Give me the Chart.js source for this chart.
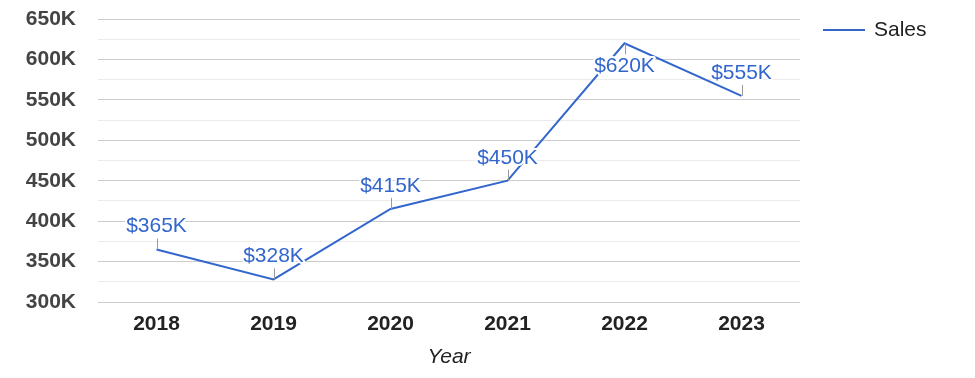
<!DOCTYPE html>
<html>
<head>
<meta charset="utf-8">
<script src="https://cdn.jsdelivr.net/npm/chart.js@4"></script>
<style>
  html, body { margin: 0; padding: 0; background: #fff; }
  #wrap { width: 975px; height: 378px; position: relative; }
</style>
</head>
<body>
<div id="wrap"><canvas id="salesChart"></canvas></div>
<script>
const years = ["2018", "2019", "2020", "2021", "2022", "2023"];
const sales = [365000, 328000, 415000, 450000, 620000, 555000];
const seriesName = "Sales";
const axisTitle = "Year";

const FONT = "'Liberation Sans', Arial, sans-serif";
const BLUE = "#3366cc";

// annotation labels with stems, drawn over the line like Google Charts
// (flipped below the point when there is no room above)
const annotations = {
  id: "annotations",
  afterDatasetsDraw(chart) {
    const ctx = chart.ctx;
    const meta = chart.getDatasetMeta(0);
    const top = chart.chartArea.top;
    ctx.save();
    ctx.font = "21px " + FONT;
    ctx.textAlign = "center";
    ctx.textBaseline = "middle";
    meta.data.forEach((pt, i) => {
      const x = pt.x, y = pt.y;
      const dir = (y - 33 < top) ? 1 : -1;
      ctx.strokeStyle = "#999";
      ctx.lineWidth = 1;
      ctx.beginPath();
      ctx.moveTo(Math.round(x) + 0.5, y + dir * 11);
      ctx.lineTo(Math.round(x) + 0.5, y);
      ctx.stroke();
      const txt = "$" + (sales[i] / 1000) + "K";
      const ty = y + dir * 23;
      ctx.strokeStyle = "#fff";
      ctx.lineWidth = 4;
      ctx.lineJoin = "round";
      ctx.strokeText(txt, x, ty);
      ctx.fillStyle = BLUE;
      ctx.fillText(txt, x, ty);
    });
    ctx.restore();
  }
};

// legend on the right
const sideLegend = {
  id: "sideLegend",
  afterDraw(chart) {
    const ctx = chart.ctx;
    ctx.save();
    ctx.strokeStyle = BLUE;
    ctx.lineWidth = 2;
    ctx.beginPath();
    ctx.moveTo(823, 30);
    ctx.lineTo(865, 30);
    ctx.stroke();
    ctx.fillStyle = "#222";
    ctx.font = "21px " + FONT;
    ctx.textBaseline = "middle";
    ctx.fillText(seriesName, 874, 30);
    ctx.restore();
  }
};

new Chart(document.getElementById("salesChart"), {
  type: "line",
  data: {
    labels: years,
    datasets: [{
      label: seriesName,
      data: sales,
      borderColor: BLUE,
      borderWidth: 2,
      pointRadius: 0,
      tension: 0,
      fill: false
    }]
  },
  options: {
    responsive: true,
    maintainAspectRatio: false,
    animation: false,
    layout: { padding: { top: 19, right: 175, bottom: 0, left: 0 } },
    plugins: {
      legend: { display: false },
      tooltip: { enabled: false }
    },
    scales: {
      x: {
        offset: true,
        grid: { display: false, drawTicks: false },
        border: { display: false },
        ticks: { color: "#222", font: { family: FONT, size: 21, weight: "bold" }, padding: 10 },
        title: {
          display: true,
          text: axisTitle,
          color: "#222",
          font: { family: FONT, size: 21, style: "italic" },
          padding: { top: 0, bottom: 8 }
        },
        afterFit(scale) { scale.height = 76; scale.paddingLeft = 0; scale.paddingRight = 0; }
      },
      y: {
        min: 300000,
        max: 650000,
        border: { display: false },
        grid: {
          drawTicks: false,
          color: c => (c.tick.value % 50000 === 0 ? "#cccccc" : "#ebebeb")
        },
        ticks: {
          stepSize: 25000,
          autoSkip: false,
          padding: 22,
          color: "#444",
          font: { family: FONT, size: 21, weight: "bold" },
          callback: v => (v % 50000 === 0 ? (v / 1000) + "K" : "")
        },
        afterFit(scale) { scale.width = 98; scale.paddingTop = 0; scale.paddingBottom = 0; }
      }
    }
  },
  plugins: [annotations, sideLegend]
});
</script>
</body>
</html>
